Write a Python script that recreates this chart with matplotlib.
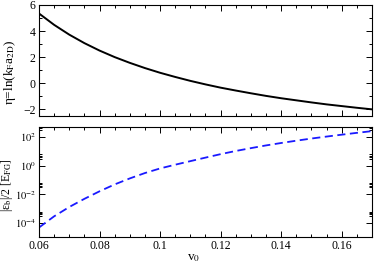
import matplotlib
matplotlib.use("Agg")
import matplotlib.pyplot as plt
from matplotlib.ticker import MultipleLocator, FixedLocator, FuncFormatter, NullFormatter
import numpy as np

plt.rcParams['font.family'] = ['Liberation Serif', 'DejaVu Serif']
plt.rcParams['mathtext.fontset'] = 'stix'

v0 = [0.060, 0.065, 0.070, 0.075, 0.080, 0.085, 0.090, 0.095, 0.100, 0.105,
      0.110, 0.115, 0.120, 0.125, 0.130, 0.135, 0.140, 0.145, 0.150, 0.155,
      0.160, 0.165, 0.170]
eta = [5.35, 4.48, 3.73, 3.08, 2.51, 2.01, 1.57, 1.17, 0.81, 0.49,
       0.19, -0.08, -0.33, -0.55, -0.76, -0.96, -1.14, -1.30, -1.46, -1.61,
       -1.74, -1.87, -1.99]
eb = [4.6e-5, 2.8e-4, 1.26e-3, 4.7e-3, 1.58e-2, 4.8e-2, 0.126, 0.30, 0.63, 1.15,
      2.04, 3.6, 6.3, 10.5, 16.6, 25.7, 38, 55, 78, 107,
      145, 195, 257]
log_major = [1e-4, 1e-2, 1e0, 1e2]

W, H = 374, 268
fig = plt.figure(figsize=(W / 100, H / 100), dpi=100)
L, R = 39, 372
ax1 = fig.add_axes([L / W, 1 - 116 / H, (R - L) / W, 111 / H])
ax2 = fig.add_axes([L / W, 1 - 237 / H, (R - L) / W, 110 / H])

ax1.plot(v0, eta, color='black', lw=1.4)
ax2.plot(v0, eb, color='#1a1aff', lw=1.3, dashes=(4.5, 2.5))

for ax in (ax1, ax2):
    ax.set_xlim(0.06, 0.17)
    ax.xaxis.set_major_locator(MultipleLocator(0.02))
    ax.xaxis.set_minor_locator(MultipleLocator(0.005))
    ax.tick_params(which='both', direction='in', top=True, right=True,
                   labelsize=8.5, width=0.7, pad=2.5)
    ax.tick_params(which='major', length=4.5)
    ax.tick_params(which='minor', length=2.2)
    for s in ax.spines.values():
        s.set_linewidth(0.8)

ax1.set_ylim(-2.5, 6)
ax1.yaxis.set_major_locator(MultipleLocator(2))
ax1.yaxis.set_minor_locator(MultipleLocator(1))
ax1.tick_params(labelbottom=False)

ax2.set_yscale('log')
ax2.set_ylim(1e-5, 5e2)
ax2.yaxis.set_major_locator(FixedLocator(log_major))
ax2.yaxis.set_major_formatter(FuncFormatter(lambda v, p: r'$10^{%d}$' % int(round(np.log10(v)))))
minor = [k * 10.0 ** n for n in range(-6, 3, 2) for k in (3, 4, 5, 6)]
ax2.yaxis.set_minor_locator(FixedLocator(minor))
ax2.yaxis.set_minor_formatter(NullFormatter())
ax2.tick_params(axis='y', which='major', labelsize=7.5, pad=2)
ax2.xaxis.set_major_formatter(FuncFormatter(lambda v, p: ('%.2f' % v).rstrip('0') if abs(v - 0.1) < 1e-9 else '%.2f' % v))

fig.text(10 / W, 1 - 72 / H, r'η=ln(k$_\mathrm{F}$a$_\mathrm{2D}$)', rotation=90,
         ha='center', va='center', fontsize=9.5)
fig.text(7 / W, 1 - 185 / H, r'|ε$_\mathrm{b}$|/2 [E$_\mathrm{FG}$]', rotation=90,
         ha='center', va='center', fontsize=8.5)
fig.text(194 / W, 1 - 258 / H, r'v$_0$', ha='center', va='center', fontsize=9.5)

fig.savefig('out.png', dpi=100)
